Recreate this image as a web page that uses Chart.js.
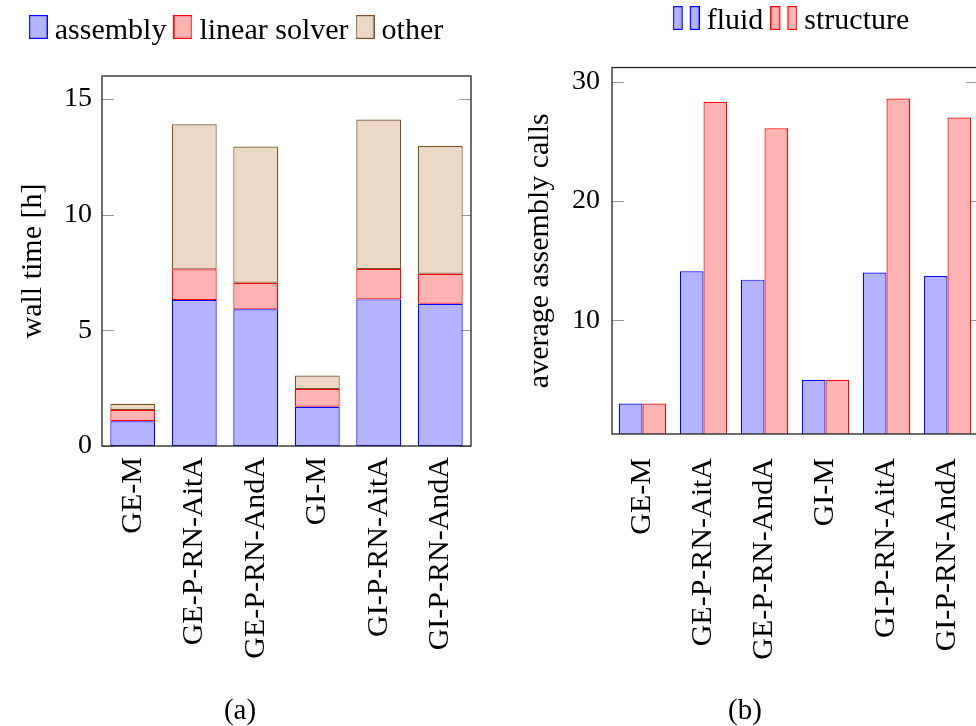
<!DOCTYPE html>
<html>
<head>
<meta charset="utf-8">
<title>wall time and assembly calls</title>
<script src="https://cdn.jsdelivr.net/npm/chart.js@4.4.1/dist/chart.umd.min.js"></script>
<style>
  html, body { margin: 0; padding: 0; background: #fff; }
  body { width: 976px; height: 726px; position: relative; overflow: hidden; }
  .panel { position: absolute; }
  #panelA { left: 0; top: 0; }
  #panelB { left: 500px; top: -10px; }
</style>
</head>
<body>
<div class="panel" id="panelA"><canvas id="chartA" width="480" height="726"></canvas></div>
<div class="panel" id="panelB"><canvas id="chartB" width="490" height="736"></canvas></div>
<script>
// categorias comunes a las dos graficas
const categories = ['GE-M', 'GE-P-RN-AitA', 'GE-P-RN-AndA', 'GI-M', 'GI-P-RN-AitA', 'GI-P-RN-AndA'];

// (a) tiempo de pared [h], apilado
const assemblyTime = [1.07, 6.31, 5.91, 1.70, 6.34, 6.15];
const linearSolverTime = [0.49, 1.33, 1.15, 0.76, 1.31, 1.30];
const otherTime = [0.27, 6.27, 5.89, 0.59, 6.47, 5.52];
const wallTimeTicks = [0, 5, 10, 15];

// (b) llamadas de ensamblado promedio
const fluidCalls = [3.0, 14.1, 13.4, 5.0, 14.0, 13.7];
const structureCalls = [3.0, 28.3, 26.1, 5.0, 28.6, 27.0];
const callTicks = [10, 20, 30];

const FONT = "'Liberation Serif', 'Times New Roman', serif";
const blue = 'rgb(0,0,255)', blueFill = 'rgb(179,179,255)';
const red = 'rgb(255,0,0)', redFill = 'rgb(255,179,179)';
const brown = 'rgb(125,82,40)', brownFill = 'rgb(235,217,198)';

// marcas de los ticks hacia dentro (ambos lados) y marco del eje, estilo pgfplots
const frameBox = {
  id: 'frameBox',
  beforeDatasetsDraw(chart) {
    const { ctx, chartArea: a, scales: { y } } = chart;
    ctx.save();
    ctx.strokeStyle = '#999';
    ctx.lineWidth = 1;
    y.ticks.forEach(t => {
      const py = Math.round(y.getPixelForValue(t.value)) + 0.5;
      ctx.beginPath();
      ctx.moveTo(a.left, py); ctx.lineTo(a.left + 12, py);
      ctx.moveTo(a.right - 12, py); ctx.lineTo(a.right, py);
      ctx.stroke();
    });
    ctx.restore();
  },
  afterDatasetsDraw(chart) {
    const { ctx, chartArea: a } = chart;
    ctx.save();
    ctx.strokeStyle = '#222';
    ctx.lineWidth = 1.3;
    ctx.strokeRect(a.left, a.top, a.right - a.left, a.bottom - a.top);
    ctx.restore();
  }
};

function fixWidth(w) {
  return s => { s.width = w; s.paddingTop = 0; s.paddingBottom = 0; };
}
function fixHeight(h) {
  return s => { s.height = h; s.paddingLeft = 0; s.paddingRight = 0; };
}

// icono de leyenda: una o varias barritas (con hueco abajo para subirlas respecto al texto)
function legendIcon(fill, stroke, xs, barW, imgW, imgH) {
  const c = document.createElement('canvas');
  c.width = imgW; c.height = imgH;
  const g = c.getContext('2d');
  g.fillStyle = fill; g.strokeStyle = stroke; g.lineWidth = 1.2;
  xs.forEach(x => {
    g.fillRect(x + 0.6, 0.6, barW - 1.2, 22.8);
    g.strokeRect(x + 0.6, 0.6, barW - 1.2, 22.8);
  });
  return c;
}

function iconLabels(chart) {
  return Chart.defaults.plugins.legend.labels.generateLabels(chart)
    .map((item, i) => Object.assign(item, { pointStyle: chart.data.datasets[i].pointStyle }));
}

const tickFont = { family: FONT, size: 28, lineHeight: 1 };
const textFont = { family: FONT, size: 30, lineHeight: 1 };

// ---------- (a) ----------
new Chart(document.getElementById('chartA'), {
  type: 'bar',
  data: {
    labels: categories,
    datasets: [
      { label: 'assembly', data: assemblyTime, backgroundColor: blueFill, borderColor: blue,
        pointStyle: legendIcon(blueFill, blue, [0], 19, 19, 32) },
      { label: 'linear solver', data: linearSolverTime, backgroundColor: redFill, borderColor: red,
        pointStyle: legendIcon(redFill, red, [0], 19, 19, 32) },
      { label: 'other', data: otherTime, backgroundColor: brownFill, borderColor: brown,
        pointStyle: legendIcon(brownFill, brown, [0], 19, 19, 32) }
    ]
  },
  options: {
    responsive: false,
    animation: false,
    layout: { padding: { left: 9, right: 9, top: 1, bottom: 0 } },
    datasets: { bar: { borderWidth: 1.2, borderSkipped: false, barPercentage: 0.73, categoryPercentage: 1 } },
    scales: {
      x: {
        stacked: true,
        grid: { display: false, drawTicks: false },
        border: { display: false },
        ticks: { color: '#000', font: textFont, minRotation: 90, maxRotation: 90, padding: 11, autoSkip: false },
        afterFit: fixHeight(251)
      },
      x2: {
        type: 'category',
        position: 'top',
        display: true,
        grid: { display: false, drawTicks: false },
        border: { display: false },
        ticks: { display: false },
        afterFit: fixHeight(20)
      },
      y: {
        stacked: true,
        min: 0,
        max: 16,
        grid: { display: false, drawTicks: false },
        border: { display: false },
        ticks: { color: '#000', font: tickFont, padding: 10 },
        afterBuildTicks: s => { s.ticks = wallTimeTicks.map(v => ({ value: v })); },
        title: { display: true, text: 'wall time [h]', color: '#000', font: textFont, padding: { top: 9, bottom: 0 } },
        afterFit: fixWidth(93)
      }
    },
    plugins: {
      legend: {
        position: 'top',
        labels: {
          usePointStyle: true, pointStyleWidth: 3, padding: 15, color: '#000',
          font: { family: FONT, size: 30 },
          generateLabels: iconLabels
        }
      },
      title: {
        display: true, position: 'bottom', text: '(a)', color: '#000',
        font: { family: FONT, size: 29, lineHeight: 1, weight: 'normal' }, padding: 0
      },
      tooltip: { enabled: false }
    }
  },
  plugins: [frameBox]
});

// ---------- (b) ----------
new Chart(document.getElementById('chartB'), {
  type: 'bar',
  data: {
    labels: categories,
    datasets: [
      { label: 'fluid', data: fluidCalls, backgroundColor: blueFill, borderColor: blue,
        pointStyle: legendIcon(blueFill, blue, [0, 17], 10, 27, 31) },
      { label: 'structure', data: structureCalls, backgroundColor: redFill, borderColor: red,
        pointStyle: legendIcon(redFill, red, [0, 17], 10, 27, 31) }
    ]
  },
  options: {
    responsive: false,
    animation: false,
    layout: { padding: { left: 12, right: 12, top: 1.5, bottom: 0 } },
    datasets: { bar: { borderWidth: 1.2, borderSkipped: false, barPercentage: 1, categoryPercentage: 0.776 } },
    scales: {
      x: {
        grid: { display: false, drawTicks: false },
        border: { display: false },
        ticks: { color: '#000', font: textFont, minRotation: 90, maxRotation: 90, padding: 24, autoSkip: false },
        afterFit: fixHeight(263)
      },
      x2: {
        type: 'category',
        position: 'top',
        display: true,
        grid: { display: false, drawTicks: false },
        border: { display: false },
        ticks: { display: false },
        afterFit: fixHeight(21)
      },
      y: {
        min: 0.45,
        max: 31.2,
        grid: { display: false, drawTicks: false },
        border: { display: false },
        ticks: { color: '#000', font: tickFont, padding: 12 },
        afterBuildTicks: s => { s.ticks = callTicks.map(v => ({ value: v })); },
        title: { display: true, text: 'average assembly calls', color: '#000', font: textFont, padding: { top: 13, bottom: 0 } },
        afterFit: fixWidth(100)
      }
    },
    plugins: {
      legend: {
        position: 'top',
        fullSize: false,
        labels: {
          usePointStyle: true, pointStyleWidth: 11, padding: 15, color: '#000',
          font: { family: FONT, size: 30 },
          generateLabels: iconLabels
        }
      },
      title: {
        display: true, position: 'bottom', text: '(b)', color: '#000',
        font: { family: FONT, size: 29, lineHeight: 1, weight: 'normal' }, padding: 0
      },
      tooltip: { enabled: false }
    }
  },
  plugins: [frameBox]
});
</script>
</body>
</html>
